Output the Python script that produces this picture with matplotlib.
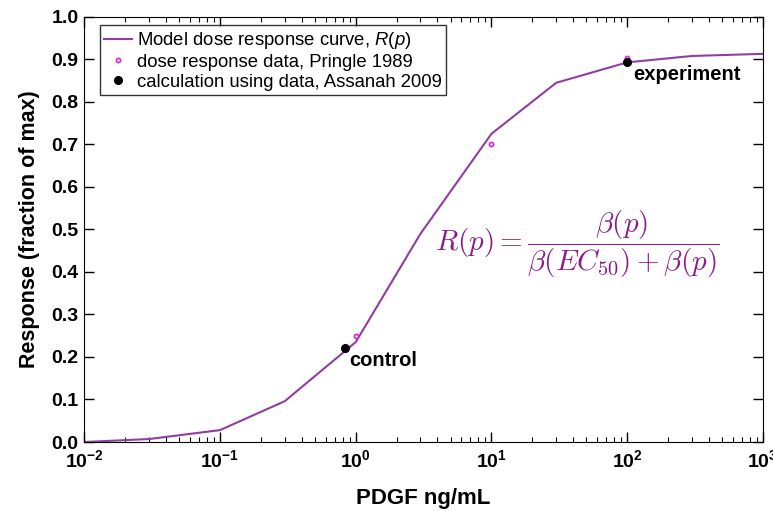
import numpy as np
import matplotlib
matplotlib.use("Agg")
import matplotlib.pyplot as plt
from matplotlib.ticker import LogLocator, FixedLocator, FuncFormatter

plt.rcParams['font.family'] = ['Liberation Sans', 'DejaVu Sans']
plt.rcParams['mathtext.fontset'] = 'custom'
plt.rcParams['mathtext.rm'] = 'Liberation Sans'
plt.rcParams['mathtext.it'] = 'Liberation Sans:italic'
plt.rcParams['mathtext.bf'] = 'Liberation Sans:bold'

# model curve R(p)
dose = [0.01, 0.03, 0.1, 0.3, 1, 3, 10, 30, 100, 300, 1000]
model_resp = [0.0, 0.007, 0.028, 0.096, 0.235, 0.49, 0.725, 0.845, 0.893, 0.908, 0.913]

# Pringle 1989 data
pringle_dose = [1, 10, 100]
pringle_resp = [0.25, 0.70, 0.903]

# Assanah 2009 calculation
calc_dose = [0.83, 100]
calc_resp = [0.221, 0.893]
calc_labels = ['control', 'experiment']

yticks = np.round(np.arange(0, 1.01, 0.1), 1)

purple = '#8E3FA0'
magenta = '#E01EE0'

fig = plt.figure(figsize=(7.73, 5.11), dpi=100)
ax = fig.add_axes([0.109, 0.135, 0.878, 0.832])

ax.plot(dose, model_resp, color=purple, lw=1.5, label='Model dose response curve, $\\it{R(p)}$')
ax.plot(pringle_dose, pringle_resp, 'o', ms=3, mfc='white', mec=magenta, mew=1.2, ls='none',
        label='dose response data, Pringle 1989')
ax.plot(calc_dose, calc_resp, 'o', ms=5.5, color='black', ls='none',
        label='calculation using data, Assanah 2009')

offsets = [(3, -9), (4, -9)]
for xd, yd, lab, off in zip(calc_dose, calc_resp, calc_labels, offsets):
    ax.annotate(lab, (xd, yd), xytext=off, textcoords='offset points',
                fontsize=14.5, fontweight='bold', va='center', ha='left')

ax.text(0.727, 0.464,
        r'$R(p) = \dfrac{\beta(p)}{\beta(EC_{50}) + \beta(p)}$',
        transform=ax.transAxes, ha='center', va='center', fontsize=21,
        color='#8B1A8B', math_fontfamily='cm')

ax.set_xscale('log')
ax.set_xlim(0.01, 1000)
ax.set_ylim(0, 1.0)
ax.xaxis.set_major_locator(LogLocator(base=10, numticks=10))
ax.xaxis.set_minor_locator(LogLocator(base=10, subs=np.arange(2, 10), numticks=20))
ax.xaxis.set_major_formatter(FuncFormatter(
    lambda v, pos: r'$\mathbf{10^{%d}}$' % int(round(np.log10(v)))))
ax.yaxis.set_major_locator(FixedLocator(yticks))
ax.set_yticklabels(['%.1f' % v for v in yticks])

ax.tick_params(which='both', direction='in', top=True, right=True, labelsize=14)
ax.tick_params(which='major', length=7, width=1)
ax.tick_params(which='minor', length=3.5, width=0.8)
for lab in ax.get_xticklabels() + ax.get_yticklabels():
    lab.set_fontweight('bold')
ax.tick_params(axis='x', pad=5)
ax.tick_params(axis='y', pad=4)

ax.set_xlabel('PDGF ng/mL', fontsize=16, fontweight='bold', labelpad=12)
ax.set_ylabel('Response (fraction of max)', fontsize=15.5, fontweight='bold', labelpad=8)

leg = ax.legend(loc='upper left', fontsize=13.3, frameon=True, fancybox=False,
                edgecolor='black', handlelength=1.5, handletextpad=0.25,
                borderpad=0.25, labelspacing=0.15, borderaxespad=0,
                bbox_to_anchor=(0.023, 0.98))
leg.get_frame().set_linewidth(1.0)

plt.savefig('out.png', dpi=100)
